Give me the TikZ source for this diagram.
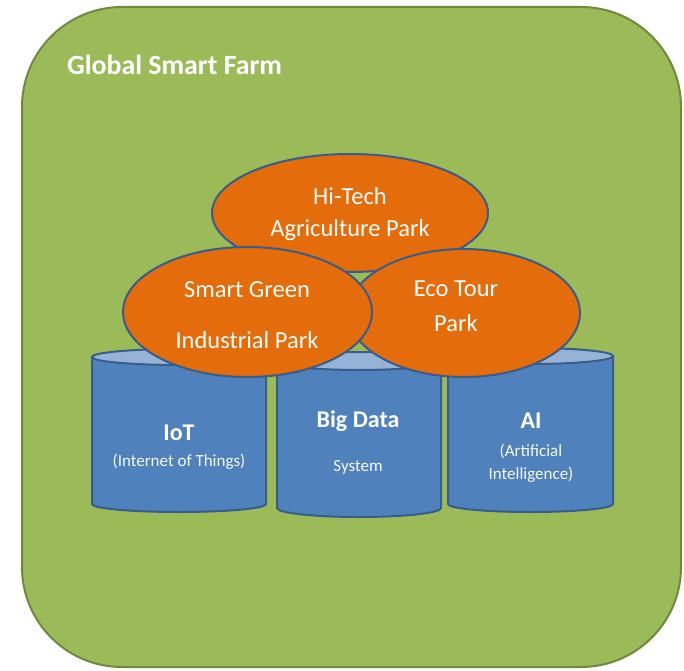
\documentclass[tikz,border=0pt]{standalone}
\usepackage{fontspec}
\setmainfont{Carlito}
\usetikzlibrary{shapes.geometric}
\definecolor{farmgreen}{HTML}{9BBB59}
\definecolor{farmborder}{HTML}{71893F}
\definecolor{parkorange}{HTML}{E46C0A}
\definecolor{cylblue}{HTML}{4F81BD}
\definecolor{cyltop}{HTML}{95B3D7}
\definecolor{darkblue}{HTML}{385D8A}
\newcommand{\drawcyl}[6]{% name, L, R, ytop, ybot, ry
  \pgfmathsetmacro{\cx}{(#2+#3)/2}
  \pgfmathsetmacro{\rx}{(#3-#2)/2}
  \fill[cylblue] (#2,#4) -- (#2,#5) arc[start angle=180,end angle=360,x radius=\rx,y radius=#6] -- (#3,#4) -- cycle;
  \draw[cylline] (#2,#4) -- (#2,#5) arc[start angle=180,end angle=360,x radius=\rx,y radius=#6] -- (#3,#4);
  \draw[cylline,fill=cyltop] (\cx,#4) ellipse[x radius=\rx,y radius=#6];
  \coordinate (#1) at (\cx,{(#4+#5)/2});
}
\tikzset{
  cylline/.style={draw=darkblue,line width=2pt},
  park/.style={ellipse,draw=darkblue,line width=2pt,fill=parkorange,inner sep=0pt},
  parktext/.style={text=white,font=\fontsize{24.5}{29}\selectfont,inner sep=0pt},
  cyltitle/.style={text=white,font=\bfseries\fontsize{24}{29}\selectfont,inner sep=0pt},
  cylsub/.style={text=white!95!cylblue,font=\fontsize{17}{20}\selectfont,inner sep=0pt},
}
\begin{document}
\begin{tikzpicture}[x=1pt,y=1pt]
\useasboundingbox (0,0) rectangle (684,670);
% background panel
\draw[draw=farmborder,line width=2pt,fill=farmgreen,rounded corners=100pt] (22,663) rectangle (681,3);
\node[anchor=west,text=white,font=\bfseries\fontsize{27.8}{33}\selectfont,inner sep=0pt] (title) at (67,605) {Global Smart Farm};
% cylinders
\drawcyl{iot}{92}{266}{313}{166}{8}
\drawcyl{bigdata}{277}{441}{309}{162}{9}
\drawcyl{ai}{448}{613}{314}{166}{8}
\node[cyltitle] (iott) at (179,237) {IoT};
\node[cylsub] (iots) at (179,208) {(Internet of Things)};
\node[cyltitle] (bdt) at (358,249) {Big Data};
\node[cylsub] (bds) at (358,203) {System};
\node[cyltitle] (ait) at (531,249) {AI};
\node[cylsub] (ais1) at (531,219) {(Artificial};
\node[cylsub] (ais2) at (531,195) {Intelligence)};
% parks
\node[park,minimum width=276pt,minimum height=118pt] (hitech) at (350,457) {};
\node[park,minimum width=232pt,minimum height=128pt] (eco) at (464,357) {};
\node[park,minimum width=249pt,minimum height=130pt] (green) at (247.5,358) {};
\node[parktext] (h1) at (350,474) {Hi-Tech};
\node[parktext] (h2) at (350,440) {Agriculture Park};
\node[parktext] (g1) at (247,380) {Smart Green};
\node[parktext] (g2) at (247,330) {Industrial Park};
\node[parktext] (e1) at (456,381) {Eco Tour};
\node[parktext] (e2) at (456,347) {Park};
\end{tikzpicture}
\end{document}
